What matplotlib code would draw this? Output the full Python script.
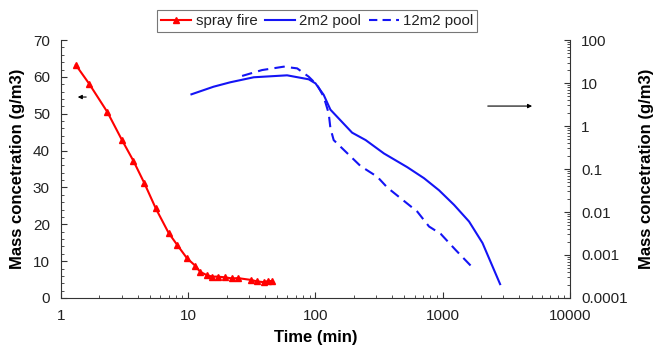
import numpy as np
import matplotlib
matplotlib.use("Agg")
import matplotlib.pyplot as plt
from matplotlib.ticker import MultipleLocator, LogLocator, FixedLocator, FixedFormatter, NullFormatter
from matplotlib.lines import Line2D

plt.rcParams["font.family"] = ["Liberation Sans", "DejaVu Sans"]

# spray fire (left, linear axis)
spray_t = [1.31, 1.66, 2.32, 3.0, 3.71, 4.53, 5.56, 7.0, 8.15, 9.77, 11.4, 12.4, 14.0, 15.4,
           17.0, 19.5, 22.1, 24.5, 31.2, 34.7, 39.2, 42.4, 45.6]
spray_c = [63.2, 58.2, 50.4, 43.0, 37.2, 31.1, 24.3, 17.7, 14.5, 10.8, 8.7, 7.1, 6.2, 5.8,
           5.8, 5.6, 5.3, 5.4, 4.9, 4.5, 4.3, 4.6, 4.6]

# 2m2 pool (right, log axis)
pool2_t = [10.6, 15.8, 21.4, 32.7, 59.8, 88.5, 100, 116, 131, 194, 248, 345, 527, 713, 935,
           1228, 1610, 2053, 2823]
pool2_c = [5.46, 8.2, 10.4, 13.6, 15.1, 12.2, 9.8, 5.3, 2.4, 0.70, 0.47, 0.23, 0.11, 0.061,
           0.032, 0.0146, 0.006, 0.0019, 0.00021]

# 12m2 pool (right, log axis)
pool12_t = [26.5, 38, 56.3, 71.8, 88.5, 103, 116, 127, 131, 139, 226, 306, 367, 631, 780, 964,
            1265, 1683]
pool12_c = [14.6, 20, 24, 21.9, 14, 9, 4.8, 1.97, 0.89, 0.47, 0.117, 0.066, 0.037, 0.0102,
            0.0046, 0.0031, 0.0013, 0.00054]

blue = "#1414f5"

fig = plt.figure(figsize=(6.57, 3.48), dpi=100)
ax = fig.add_axes([0.0928, 0.1437, 0.7748, 0.7413])
ax2 = ax.twinx()

ax.plot(spray_t, spray_c, color="red", lw=1.5, marker="^", ms=5, mec="red", mfc="red")
ax2.plot(pool2_t, pool2_c, color=blue, lw=1.5)
ax2.plot(pool12_t, pool12_c, color=blue, lw=1.5, dashes=(5, 3))

ax.set_xscale("log")
ax.set_xlim(1, 10000)
ax.set_ylim(0, 70)
ax.yaxis.set_major_locator(MultipleLocator(10))
ax.yaxis.set_minor_locator(MultipleLocator(2))
ax.xaxis.set_minor_locator(LogLocator(base=10, subs=np.arange(2, 10)))
ax.xaxis.set_minor_formatter(NullFormatter())
ax.set_xticks([1, 10, 100, 1000, 10000])
ax.set_xticklabels(["1", "10", "100", "1000", "10000"])

ax2.set_yscale("log")
ax2.set_ylim(1e-4, 100)
yt = [1e-4, 1e-3, 1e-2, 1e-1, 1, 10, 100]
ax2.yaxis.set_major_locator(FixedLocator(yt))
ax2.yaxis.set_major_formatter(FixedFormatter(["0.0001", "0.001", "0.01", "0.1", "1", "10", "100"]))
ax2.yaxis.set_minor_locator(LogLocator(base=10, subs=np.arange(2, 10), numticks=20))
ax2.yaxis.set_minor_formatter(NullFormatter())

for a in (ax, ax2):
    a.spines["top"].set_visible(False)
    for s in a.spines.values():
        s.set_color("#333333")
    a.tick_params(which="both", direction="in", labelsize=11, colors="#333333",
                  labelcolor="#222222", pad=8)
    a.tick_params(which="major", length=4)
    a.tick_params(which="minor", length=2.5)
ax.spines["right"].set_visible(False)
ax2.spines["left"].set_visible(False)
ax2.spines["bottom"].set_visible(False)

ax.set_xlabel("Time (min)", fontsize=12, fontweight="bold", labelpad=5)
ax.set_ylabel("Mass concetration (g/m3)", fontsize=12, fontweight="bold", labelpad=6)
ax2.set_ylabel("Mass concetration (g/m3)", fontsize=12, fontweight="bold", labelpad=8)

# direction arrows
ax.annotate("", xy=(0.0275, 0.779), xytext=(0.055, 0.779), xycoords="axes fraction",
            arrowprops=dict(arrowstyle="-|>", color="black", lw=0.8, mutation_scale=6))
ax.annotate("", xy=(0.931, 0.744), xytext=(0.833, 0.744), xycoords="axes fraction",
            arrowprops=dict(arrowstyle="-|>", color="black", lw=0.8, mutation_scale=6))

handles = [
    Line2D([], [], color="red", lw=1.5, marker="^", ms=4),
    Line2D([], [], color=blue, lw=1.5),
    Line2D([], [], color=blue, lw=1.5, dashes=(4, 2.5)),
]
leg = fig.legend(handles, ["spray fire", "2m2 pool", "12m2 pool"], loc="center",
                 bbox_to_anchor=(0.483, 0.94), ncol=3, fontsize=10.8, frameon=True,
                 fancybox=False, edgecolor="#555555", handlelength=2.0, handletextpad=0.3,
                 columnspacing=0.5, borderpad=0.25)
leg.get_frame().set_linewidth(0.8)
for t in leg.get_texts():
    t.set_color("#222222")

fig.savefig("out.png", dpi=100)
